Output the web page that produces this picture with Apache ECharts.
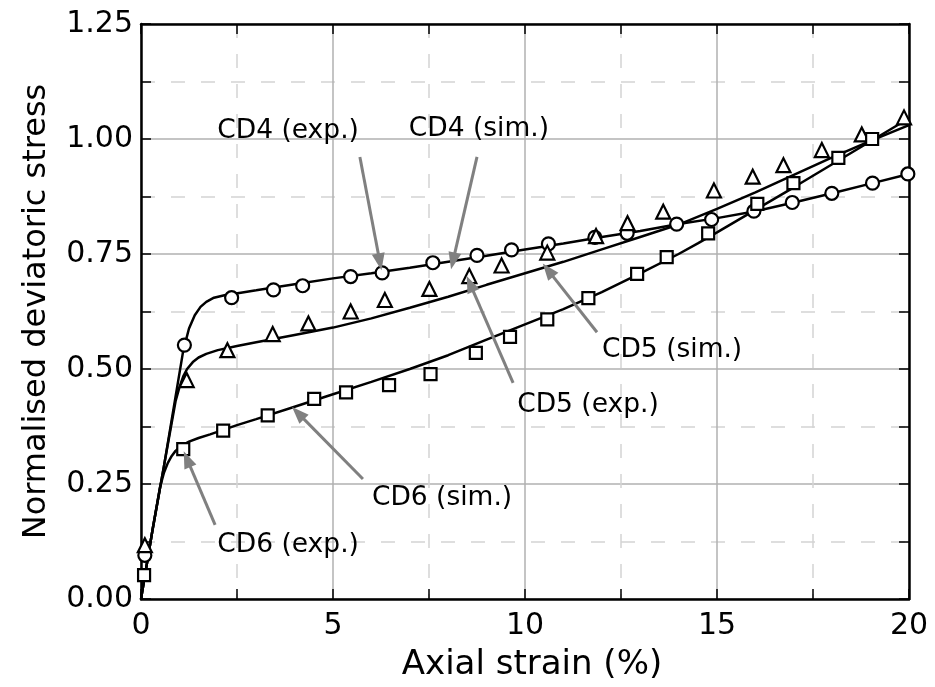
<!DOCTYPE html>
<html>
<head>
<meta charset="utf-8">
<script src="https://cdn.jsdelivr.net/npm/echarts@6/dist/echarts.min.js"></script>
<style>html,body{margin:0;padding:0;background:#fff;}#c{width:935px;height:687px;}</style>
</head>
<body>
<div id="c"></div>
<script>
// ---- Experimental data ----
var cd4ExpX = [0.1,1.13,2.36,3.45,4.21,5.46,6.28,7.6,8.75,9.65,10.61,11.82,12.66,13.95,14.86,15.96,16.96,17.99,19.05,19.97];
var cd4ExpY = [0.095,0.552,0.655,0.672,0.681,0.701,0.709,0.731,0.747,0.759,0.772,0.786,0.795,0.815,0.825,0.843,0.862,0.882,0.904,0.924];
var cd5ExpX = [0.1,1.19,2.25,3.43,4.36,5.46,6.35,7.51,8.55,9.39,10.58,11.85,12.67,13.6,14.92,15.93,16.73,17.73,18.77,19.87];
var cd5ExpY = [0.117,0.476,0.541,0.576,0.599,0.625,0.65,0.674,0.702,0.725,0.753,0.789,0.817,0.842,0.888,0.918,0.943,0.976,1.01,1.047];
var cd6ExpX = [0.08,1.1,2.14,3.3,4.51,5.34,6.46,7.54,8.72,9.61,10.58,11.65,12.92,13.69,14.77,16.05,16.99,18.16,19.04];
var cd6ExpY = [0.052,0.326,0.366,0.399,0.435,0.449,0.465,0.489,0.535,0.570,0.608,0.654,0.707,0.743,0.795,0.859,0.904,0.959,1.0];

// ---- Simulated curves ----
var cd4SimX = [0,0.3,0.6,0.9,1.1,1.25,1.4,1.55,1.7,1.9,2.2,2.6,3,4,5,6,7,8,9,10,11,12,13,14,15,16,17,18,19,20];
var cd4SimY = [0,0.15,0.29,0.44,0.54,0.588,0.617,0.635,0.646,0.655,0.661,0.666,0.671,0.684,0.697,0.708,0.72,0.733,0.746,0.76,0.773,0.787,0.80,0.815,0.828,0.843,0.862,0.882,0.903,0.924];
var cd5SimX = [0,0.3,0.6,0.9,1.0,1.1,1.2,1.35,1.5,1.7,2.0,2.5,3,4,5,6,7,8,9,10,11,12,13,14,15,16,17,18,19,20];
var cd5SimY = [0,0.15,0.29,0.43,0.46,0.484,0.5,0.515,0.525,0.533,0.541,0.55,0.558,0.574,0.59,0.61,0.633,0.657,0.683,0.708,0.733,0.76,0.787,0.814,0.848,0.884,0.922,0.96,0.996,1.03];
var cd6SimX = [0,0.3,0.5,0.6,0.7,0.8,0.9,1.05,1.25,1.5,1.8,2.5,3,4,5,6,7,8,9,10,11,12,13,14,14.5,15,16,17,18,19,20];
var cd6SimY = [0,0.15,0.245,0.275,0.296,0.311,0.322,0.333,0.342,0.35,0.358,0.378,0.391,0.418,0.445,0.472,0.5,0.53,0.564,0.597,0.63,0.667,0.708,0.75,0.773,0.797,0.846,0.895,0.945,0.995,1.045];

// ---- Annotations (data coordinates) ----
var annoText  = ['CD4 (exp.)','CD4 (sim.)','CD5 (sim.)','CD5 (exp.)','CD6 (sim.)','CD6 (exp.)'];
var annoTextX = [3.83, 8.80, 13.83, 11.64, 7.84, 3.83];
var annoTextY = [1.017, 1.022, 0.541, 0.422, 0.22, 0.117];
var arrowFromX = [5.70, 8.75, 11.875, 9.69, 5.78, 1.93];
var arrowFromY = [0.961, 0.961, 0.580, 0.470, 0.261, 0.161];
var arrowToX   = [6.22, 8.125, 10.6, 8.57, 4.09, 1.2];
var arrowToY   = [0.733, 0.735, 0.715, 0.685, 0.404, 0.304];

// ---- Axis ticks ----
var xMin = 0, xMax = 20, xStep = 5;
var yMin = 0, yMax = 1.25, yStep = 0.25;

function zip(xs, ys){ return xs.map(function(x,i){ return [x, ys[i]]; }); }

var FONT = 'DejaVu Sans';
var chart = echarts.init(document.getElementById('c'), null, {renderer:'canvas'});

function baseAxis(extra){
  var a = {
    type:'value',
    axisLine:{show:true, onZero:false, lineStyle:{color:'#000', width:2.5}},
    axisTick:{show:true, inside:true, length:10, lineStyle:{color:'#000', width:1.5}},
    minorTick:{show:true, splitNumber:2, length:10, lineStyle:{color:'#000', width:1.5}},
    splitLine:{show:false},
    minorSplitLine:{show:false},
    axisLabel:{show:false}
  };
  for (var k in extra) a[k] = extra[k];
  return a;
}

var seriesList = [];
function simSeries(name, xs, ys){
  return {name:name, type:'line', data:zip(xs, ys), showSymbol:false, symbol:'none',
    smooth:false, lineStyle:{color:'#000', width:2.5, opacity:1}, z:3, silent:true, animation:false};
}
function expSeries(name, xs, ys, sym, size){
  return {name:name, type:'scatter', data:zip(xs, ys), symbol:sym, symbolSize:size,
    itemStyle:{color:'#fff', borderColor:'#000', borderWidth:2.2, opacity:1}, z:4, silent:true, animation:false};
}
seriesList.push(simSeries('CD4 sim', cd4SimX, cd4SimY));
seriesList.push(simSeries('CD5 sim', cd5SimX, cd5SimY));
seriesList.push(simSeries('CD6 sim', cd6SimX, cd6SimY));
seriesList.push(expSeries('CD4 exp', cd4ExpX, cd4ExpY, 'circle', 13));
seriesList.push(expSeries('CD5 exp', cd5ExpX, cd5ExpY, 'triangle', 14));
seriesList.push(expSeries('CD6 exp', cd6ExpX, cd6ExpY, 'rect', 12));

var arrows = annoText.map(function(t,i){
  return [{coord:[arrowFromX[i], arrowFromY[i]]}, {coord:[arrowToX[i], arrowToY[i]]}];
});
seriesList.push({
  name:'annotations', type:'scatter', symbolSize:0, silent:true, animation:false, z:6,
  itemStyle:{opacity:1},
  data: annoText.map(function(t,i){ return {value:[annoTextX[i], annoTextY[i]], name:t}; }),
  label:{show:true, position:'inside', formatter:function(p){return p.name;},
    color:'#000', opacity:1, fontFamily:FONT, fontSize:26.5},
  markLine:{
    silent:true, animation:false, symbol:['none','triangle'], symbolSize:[13,17],
    label:{show:false},
    lineStyle:{color:'#808080', width:3, type:'solid', opacity:1},
    emphasis:{disabled:true},
    data: arrows
  }
});

var option = {
  backgroundColor:'#fff',
  animation:false,
  grid:{left:141, right:26, top:24, bottom:88, containLabel:false},
  xAxis:[
    baseAxis({min:xMin, max:xMax, interval:xStep, position:'bottom',
      splitLine:{show:true, lineStyle:{color:'#b0b0b0', width:1.5}},
      minorSplitLine:{show:true, lineStyle:{color:'#d3d3d3', width:1.5, type:[14,16]}},
      axisLabel:{show:true, margin:12, color:'#000', fontFamily:FONT, fontSize:30},
      name:'Axial strain (%)', nameLocation:'middle', nameGap:49,
      nameTextStyle:{color:'#000', fontFamily:FONT, fontSize:34, padding:[0,0,0,14]}}),
    baseAxis({min:xMin, max:xMax, interval:xStep, position:'top'})
  ],
  yAxis:[
    baseAxis({min:yMin, max:yMax, interval:yStep, position:'left',
      splitLine:{show:true, lineStyle:{color:'#b0b0b0', width:1.5}},
      minorSplitLine:{show:true, lineStyle:{color:'#d3d3d3', width:1.5, type:[14,16]}},
      axisLabel:{show:true, margin:8, color:'#000', fontFamily:FONT, fontSize:30,
        formatter:function(v){return v.toFixed(2);}},
      name:'Normalised deviatoric stress', nameLocation:'middle', nameGap:88,
      nameTextStyle:{color:'#000', fontFamily:FONT, fontSize:32}}),
    baseAxis({min:yMin, max:yMax, interval:yStep, position:'right'})
  ],
  series:seriesList
};
chart.setOption(option);
</script>
</body>
</html>
